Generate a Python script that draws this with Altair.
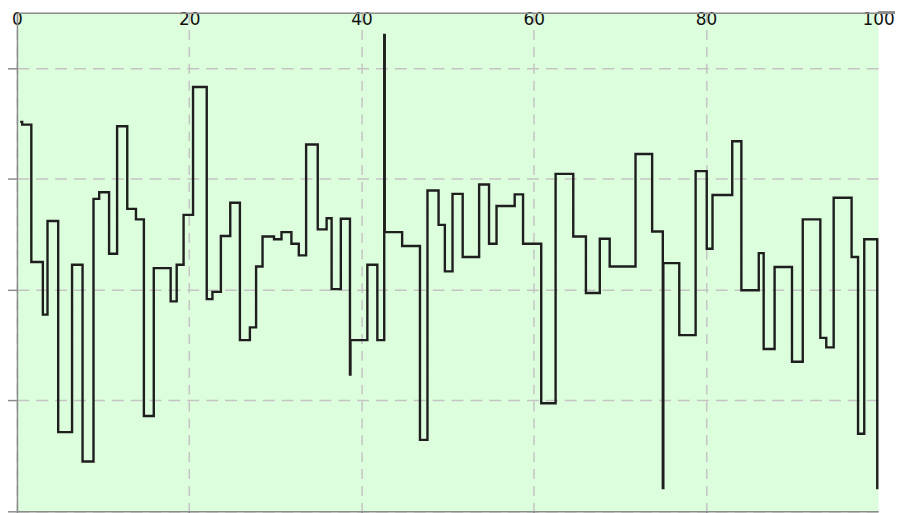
import altair as alt
import pandas as pd

# step positions (x) and values (y)
x_vals = [0.38, 0.61, 1.67, 3.01, 3.55, 4.79, 6.40, 7.62, 8.89, 9.55,
          10.70, 11.63, 12.81, 13.82, 14.74, 15.89, 17.85, 18.55, 19.35, 20.45,
          22.04, 22.70, 23.68, 24.77, 25.89, 27.05, 27.77, 28.52, 29.85, 30.72,
          31.87, 32.73, 33.58, 34.93, 35.96, 36.54, 37.61, 38.67, 38.73, 40.69,
          41.85, 42.65, 42.71, 44.73, 46.80, 47.67, 48.96, 49.69, 50.58, 51.76,
          53.67, 54.82, 55.69, 57.80, 58.77, 60.88, 62.55, 64.60, 66.07, 67.68,
          68.83, 71.83, 73.76, 75.00, 75.06, 76.91, 78.81, 80.10, 80.77, 83.06,
          84.12, 86.14, 86.71, 87.98, 90.00, 91.25, 93.29, 93.98, 94.84, 96.92,
          97.67, 98.39, 99.90]
y_vals = [70.3, 69.8, 45.0, 35.5, 52.4, 14.3, 44.5, 9.0, 56.4, 57.6,
          46.5, 69.5, 54.6, 52.7, 17.2, 43.9, 37.9, 44.5, 53.5, 76.6,
          38.3, 39.6, 49.7, 55.7, 30.9, 33.2, 44.2, 49.6, 49.1, 50.4,
          48.3, 46.2, 66.2, 50.9, 52.9, 40.1, 52.8, 24.7, 30.9, 44.5,
          30.9, 86.0, 50.4, 47.9, 12.9, 57.9, 51.7, 43.3, 57.3, 45.9,
          59.0, 48.3, 55.1, 57.2, 48.3, 19.5, 60.9, 49.6, 39.4, 49.2,
          44.2, 64.5, 50.5, 4.2, 44.8, 31.8, 61.4, 47.4, 57.1, 66.8,
          39.9, 46.6, 29.3, 44.1, 27.0, 52.7, 31.3, 29.6, 56.6, 45.9,
          14.0, 49.1, 4.0]

x_ticks = [0, 20, 40, 60, 80, 100]
y_ticks = [0, 20, 40, 60, 80]

df = pd.DataFrame({"x": x_vals, "y": y_vals})

W, H = 867, 502
AXIS_GRAY = "#8c8c8c"
GRID_GRAY = "#c4c4c4"

xscale = alt.Scale(domain=[0, 100], nice=False, zero=False)
yscale = alt.Scale(domain=[0, 90], nice=False, zero=False)

y_axis = alt.Axis(orient="left", values=y_ticks, labels=False,
                  ticks=True, tickSize=10, tickColor=AXIS_GRAY, tickWidth=1.5,
                  grid=True, gridDash=[12, 7], gridColor=GRID_GRAY,
                  gridWidth=1.5, domainColor=AXIS_GRAY, domainWidth=1.5,
                  title=None)

line = alt.Chart(df).mark_line(
    interpolate="step-after", color="#1e1e1e", strokeWidth=2.4
).encode(
    x=alt.X("x:Q", scale=xscale,
            axis=alt.Axis(orient="bottom", values=x_ticks[:-1], labels=False,
                          ticks=True, tickSize=9, tickColor=AXIS_GRAY, tickWidth=1.5,
                          grid=True, gridDash=[10, 7], gridColor=GRID_GRAY,
                          gridWidth=1.5, domainColor=AXIS_GRAY, domainWidth=1.5,
                          title=None)),
    y=alt.Y("y:Q", scale=yscale, axis=y_axis),
)

top_axis = alt.Chart(df).mark_line(opacity=0).encode(
    x=alt.X("x:Q", scale=xscale,
            axis=alt.Axis(orient="top", values=x_ticks, ticks=False, tickSize=0,
                          labelPadding=-12, labelBaseline="alphabetic",
                          labelFlush=False, labelFont="DejaVu Sans",
                          labelFontSize=17, labelColor="#111111",
                          grid=False, domainColor=AXIS_GRAY, domainWidth=1.5,
                          title=None)),
    y=alt.Y("y:Q", scale=yscale, axis=y_axis),
)

top_ext = alt.Chart(df).mark_rule(color=AXIS_GRAY, strokeWidth=1.5).encode(
    x=alt.value(W), x2=alt.value(W + 17), y=alt.value(0)
)

chart = alt.layer(line, top_axis, top_ext).resolve_axis(
    x="independent"
).properties(
    width=W, height=H,
    autosize=alt.AutoSizeParams(type="none"),
    padding={"left": 9, "top": 3, "right": 17, "bottom": 6},
).configure_view(
    fill="#ddfedd", stroke="transparent"
)

chart.save("out.html", embed_options={"renderer": "svg", "actions": False})
